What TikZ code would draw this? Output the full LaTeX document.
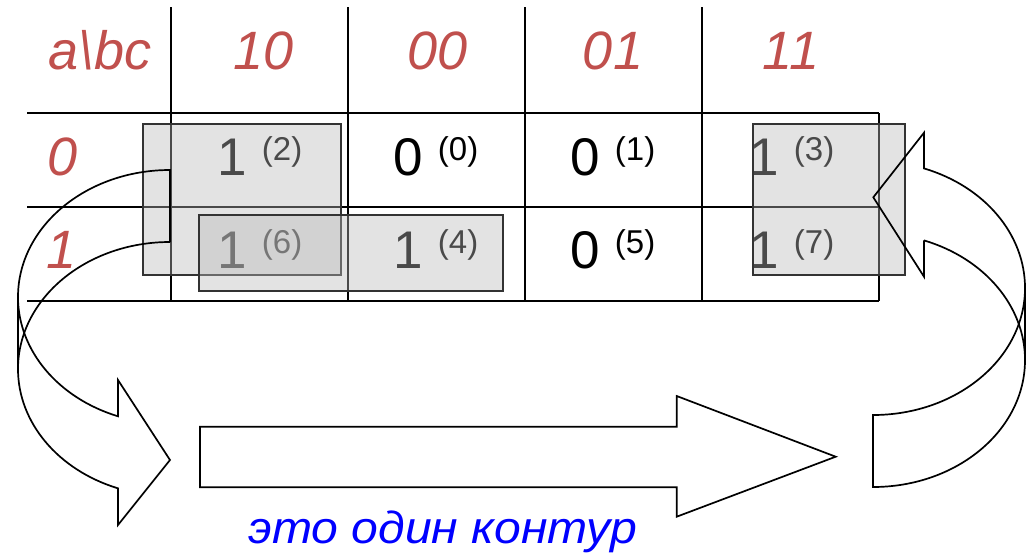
\documentclass[tikz,border=0pt]{standalone}
\usepackage{fontspec}
\setmainfont{Liberation Sans}
\definecolor{hdrred}{RGB}{192,80,77}
\definecolor{loopblue}{RGB}{0,0,255}
\definecolor{groupgray}{RGB}{185,185,185}
% minterm index written as a small raised "(n)"
\newcommand{\cellidx}[1]{\raisebox{15pt}{\fontsize{33}{33}\selectfont(#1)}}
\begin{document}
\begin{tikzpicture}[x=1pt,y=-1pt,
  gridline/.style={line width=2.3pt,black},
  hdr/.style={text=hdrred,font=\fontsize{54}{54}\selectfont\itshape,inner sep=0pt,anchor=base},
  cellnum/.style={font=\fontsize{53}{53}\selectfont,inner sep=0pt,anchor=base},
  group/.style={fill=groupgray,fill opacity=0.4,draw=black!80,draw opacity=1,line width=1.7pt},
  shapeline/.style={draw=black,line width=1.7pt,line join=miter},
  note/.style={text=loopblue,font=\fontsize{45}{45}\selectfont\itshape,inner sep=0pt,anchor=base},
]
\useasboundingbox (0,0) rectangle (1027,554);

% Karnaugh map grid
\foreach \gx in {171,348,525,702} \draw[gridline] (\gx,7) -- (\gx,301);
\draw[gridline] (879,113) -- (879,301);
\foreach \gy in {113,207,301} \draw[gridline] (27,\gy) -- (879,\gy);

% headers
\node[hdr] (h0) at (100,69) {a\textbackslash bc};
\node[hdr] (h1) at (264,69) {10};
\node[hdr] (h2) at (438,69) {00};
\node[hdr] (h3) at (613,69) {01};
\node[hdr] (h4) at (791,69) {11};
\node[hdr] (r0) at (63,175) {0};
\node[hdr] (r1) at (62,268) {1};

% cell values
\node[cellnum] (c2) at (260,175) {1 \cellidx{2}};
\node[cellnum] (c0) at (436,175) {0 \cellidx{0}};
\node[cellnum] (c1) at (613,175) {0 \cellidx{1}};
\node[cellnum] (c3) at (792,175) {1 \cellidx{3}};
\node[cellnum] (c6) at (260,268) {1 \cellidx{6}};
\node[cellnum] (c4) at (436,268) {1 \cellidx{4}};
\node[cellnum] (c5) at (613,268) {0 \cellidx{5}};
\node[cellnum] (c7) at (792,268) {1 \cellidx{7}};

% groups of ones
\draw[group] (143,124) rectangle (341,275);
\draw[group] (199,215) rectangle (503,291);
\draw[group] (753,124) rectangle (905,275);

% left curved arrow (wraps from the first column downwards)
\draw[shapeline] (170,242) -- (170,170)
  arc[start angle=270,end angle=180,x radius=152,y radius=127]
  -- (18,369)
  arc[start angle=180,end angle=110,x radius=152,y radius=127]
  -- (118,525) -- (170,460) -- (118,380) -- (118,416.3)
  arc[start angle=110,end angle=180,x radius=152,y radius=127];
\draw[shapeline] (170,242) arc[start angle=270,end angle=180,x radius=152,y radius=127];

% straight arrow along the bottom
\draw[shapeline] (200,426.7) -- (676.7,426.7) -- (676.7,396) -- (835.7,456.7)
  -- (676.7,516.7) -- (676.7,487.3) -- (200,487.3) -- cycle;

% right curved arrow (back up into the last column)
\draw[shapeline] (924,240.4) -- (924,276.7) -- (873.3,197.3) -- (924,132.7) -- (924,168.4)
  arc[start angle=-70.4,end angle=0,x radius=152,y radius=127]
  -- (1025,360)
  arc[start angle=0,end angle=90,x radius=152,y radius=127]
  -- (873,415)
  arc[start angle=90,end angle=0,x radius=152,y radius=127];
\draw[shapeline] (924,240.4) arc[start angle=-70.4,end angle=0,x radius=152,y radius=127];

\node[note] (loop) at (443,543) {\scalebox{1.07}[1]{это один контур}};
\end{tikzpicture}
\end{document}
